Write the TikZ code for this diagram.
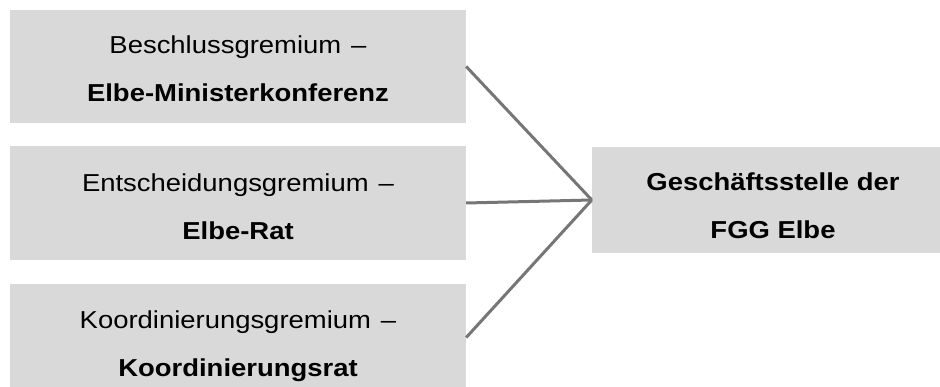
\documentclass[tikz,border=0pt]{standalone}
\usepackage{fontspec}
\setmainfont[FakeStretch=1.12]{Liberation Sans}
\newcommand{\dashgap}{\hspace{10pt}–}
\begin{document}
\begin{tikzpicture}[x=1pt,y=1pt,
  box/.style={fill=boxgray, draw=none, inner sep=0pt},
  lbl/.style={inner sep=0pt, align=center, font=\fontsize{24.5}{48}\selectfont},
  link/.style={draw=linegray, line width=3pt}]
\definecolor{boxgray}{HTML}{D9D9D9}
\definecolor{linegray}{HTML}{767676}
\useasboundingbox (0,0) rectangle (940,-387);
\clip (0,0) rectangle (940,-387);
% left column: the three committees
\node[box, minimum width=456pt, minimum height=113pt] (b1) at (238,-66.5) {};
\node[box, minimum width=456pt, minimum height=114pt] (b2) at (238,-203) {};
\node[box, minimum width=456pt, minimum height=113pt] (b3) at (238,-340.5) {};
% right: the office
\node[box, minimum width=362pt, minimum height=106pt] (gs) at (773,-200) {};
% texts
\node[lbl] (t1) at ([yshift=-2.7pt]b1.center)
  {Beschlussgremium\dashgap\\\textbf{Elbe-Ministerkonferenz}};
\node[lbl] (t2) at ([yshift=-3.7pt]b2.center)
  {Entscheidungsgremium\dashgap\\\textbf{Elbe-Rat}};
\node[lbl] (t3) at ([yshift=-6pt]b3.center)
  {Koordinierungsgremium\dashgap\\\textbf{Koordinierungsrat}};
\node[lbl] (t4) at ([yshift=-6pt]gs.center)
  {\textbf{Geschäftsstelle der}\\\textbf{FGG Elbe}};
% connectors
\draw[link] (b1.east) -- (gs.west);
\draw[link] (b2.east) -- (gs.west);
\draw[link] ([yshift=3pt]b3.east) -- (gs.west);
\end{tikzpicture}
\end{document}
